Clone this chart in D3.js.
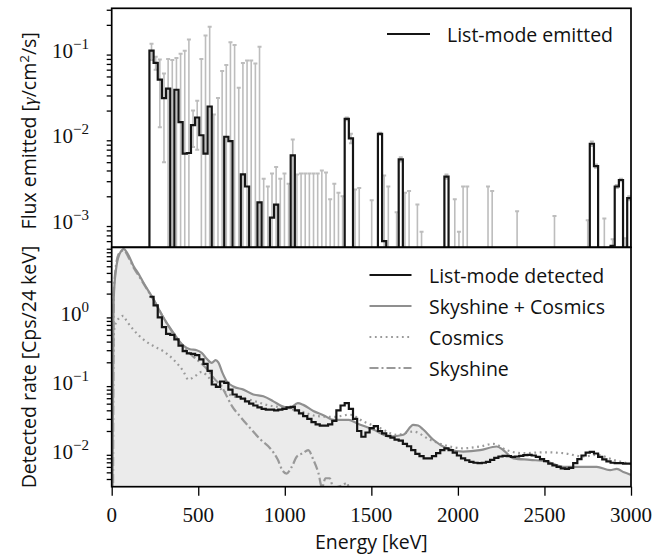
<!DOCTYPE html>
<html><head><meta charset="utf-8">
<script src="https://cdn.jsdelivr.net/npm/d3@7"></script>
<style>body{margin:0;background:#fff}svg{display:block}</style>
</head><body><svg id="c" width="669" height="556"></svg>
<script>
// ---------- DATA ----------
const binWidth = 24; // keV
const binStarts = d3.range(218, 3000, binWidth); // 116 bins
// Top panel: list-mode emitted flux per bin (0 = no flux)
const emitted = [
 0.1, 0.072, 0.046, 0.028, 0.036, 0, 0.035, 0.0147, 0.0063, 0.0064,
 0.0135, 0.0166, 0.0103, 0.0063, 0.0223, 0, 0, 0, 0.0099, 0.0088,
 0, 0, 0.0036, 0.0026, 0, 0, 0.0017, 0, 0, 0.00113,
 0.0016, 0, 0, 0, 0.006, 0, 0, 0, 0, 0,
 0, 0, 0, 0, 0, 0, 0, 0.016, 0.0095, 0,
 0, 0, 0, 0, 0, 0.0107, 0.0006, 0, 0, 0,
 0.0054, 0, 0, 0, 0, 0, 0, 0, 0, 0,
 0, 0.0034, 0, 0, 0, 0, 0, 0, 0, 0,
 0, 0, 0, 0, 0, 0, 0, 0, 0, 0,
 0, 0, 0, 0, 0, 0, 0, 0, 0, 0,
 0, 0, 0, 0, 0, 0, 0.0082, 0.0045, 0, 0,
 0, 0.00053, 0.0026, 0.0031, 0, 0.0019];
// upper end of error bars (0 = none)
const errHigh = [
 0.12, 0.085, 0.079, 0.054, 0.08, 0.078, 0.082, 0.092, 0.1, 0.135,
 0.02, 0.026, 0.08, 0.15, 0.19, 0.018, 0.028, 0.058, 0.068, 0.125,
 0.116, 0.037, 0.072, 0.077, 0.077, 0.071, 0.111, 0.0032, 0.0026, 0.0037,
 0.0044, 0.0032, 0.0037, 0.0028, 0.0092, 0.0036, 0.0037, 0.0037, 0.0037, 0.0037,
 0.0037, 0.004, 0.0038, 0.00185, 0.0028, 0.0022, 0.002, 0.0166, 0.0107, 0.0024,
 0.0025, 0, 0, 0.0018, 0, 0.011, 0.0035, 0.0026, 0, 0.0013,
 0.0057, 0.0022, 0.0023, 0, 0.0016, 0.00077, 0, 0, 0, 0,
 0, 0.0036, 0, 0.00185, 0.00077, 0.0026, 0.0026, 0, 0, 0,
 0, 0.0026, 0.0023, 0, 0, 0, 0, 0, 0.00134, 0,
 0, 0, 0, 0, 0, 0, 0, 0.00118, 0, 0,
 0, 0, 0, 0, 0, 0.00105, 0.0087, 0.0047, 0, 0.0011,
 0, 0.00063, 0.0027, 0.0032, 0.00065, 0.002];
// lower end of error bars (0 = reaches the axis)
const errLow = [
 0.078, 0.06, 0.0128, 0.005, 0, 0, 0, 0, 0, 0,
 0.0075, 0.007, 0, 0, 0, 0, 0, 0, 0, 0,
 0, 0, 0, 0, 0, 0, 0, 0, 0, 0,
 0, 0, 0, 0, 0, 0, 0, 0, 0, 0,
 0, 0, 0, 0, 0, 0, 0, 0.0154, 0.0083, 0,
 0, 0, 0, 0, 0, 0.0104, 0, 0, 0, 0,
 0.0051, 0, 0, 0, 0, 0, 0, 0, 0, 0,
 0, 0.0032, 0, 0, 0, 0, 0, 0, 0, 0,
 0, 0, 0, 0, 0, 0, 0, 0, 0, 0,
 0, 0, 0, 0, 0, 0, 0, 0, 0, 0,
 0, 0, 0, 0, 0, 0, 0.0077, 0.0043, 0, 0,
 0, 0, 0.0025, 0.003, 0, 0.0018];
// Bottom panel: list-mode detected rate per bin
const detected = [
 1.8, 1.35, 0.9, 0.65, 0.52, 0.5, 0.43, 0.35, 0.29, 0.27,
 0.265, 0.255, 0.22, 0.19, 0.15, 0.095, 0.088, 0.105, 0.1, 0.08,
 0.068, 0.063, 0.059, 0.054, 0.05, 0.047, 0.044, 0.042, 0.041, 0.041,
 0.04, 0.041, 0.042, 0.044, 0.045, 0.04, 0.036, 0.033, 0.03, 0.027,
 0.025, 0.024, 0.024, 0.025, 0.028, 0.04, 0.047, 0.051, 0.042, 0.03,
 0.02, 0.0165, 0.019, 0.022, 0.0235, 0.02, 0.0185, 0.017, 0.016, 0.015,
 0.0145, 0.013, 0.012, 0.0105, 0.0093, 0.0086, 0.008, 0.008, 0.0086, 0.0095,
 0.0105, 0.0112, 0.0105, 0.0097, 0.0088, 0.008, 0.0075, 0.0071, 0.0069, 0.0068,
 0.0069, 0.0071, 0.0076, 0.0081, 0.0085, 0.0087, 0.0086, 0.0084, 0.0085, 0.0087,
 0.0089, 0.009, 0.0088, 0.0084, 0.0078, 0.0073, 0.0067, 0.0063, 0.006, 0.0057,
 0.0056, 0.0058, 0.0068, 0.0078, 0.0088, 0.0097, 0.0099, 0.0094, 0.0084, 0.0077,
 0.0072, 0.0069, 0.0068, 0.0068, 0.0067, 0.0067];
// Skyshine + Cosmics
const sumE = [5, 10, 13, 25, 45, 70, 90, 125, 160, 183, 241, 298, 356, 414, 452, 491, 520, 549, 578, 600, 616, 640, 664, 703, 761, 818, 876, 934, 982, 1030, 1075, 1107, 1165, 1223, 1281, 1338, 1370, 1415, 1511, 1608, 1685, 1742, 1770, 1800, 1858, 1935, 2031, 2128, 2224, 2263, 2320, 2417, 2513, 2609, 2706, 2802, 2879, 2918, 2960, 3000];
const sumV = [0.0031, 1.0, 2.0, 4.5, 7.5, 8.9, 7.8, 5.1, 3.7, 2.9, 1.66, 0.9, 0.54, 0.35, 0.31, 0.3, 0.275, 0.225, 0.196, 0.215, 0.2, 0.14, 0.106, 0.089, 0.08, 0.068, 0.064, 0.054, 0.046, 0.043, 0.051, 0.048, 0.039, 0.034, 0.029, 0.029, 0.029, 0.026, 0.021, 0.0166, 0.0176, 0.0246, 0.024, 0.021, 0.0149, 0.0112, 0.01, 0.0105, 0.0119, 0.0105, 0.008, 0.0076, 0.0072, 0.006, 0.006, 0.006, 0.0054, 0.0056, 0.005, 0.0046];
// Cosmics
const cosE = [8, 13, 30, 67, 86, 125, 183, 241, 298, 356, 414, 443, 480, 520, 560, 600, 650, 703, 799, 895, 1011, 1088, 1184, 1281, 1377, 1454, 1550, 1646, 1742, 1839, 1916, 2031, 2128, 2205, 2282, 2378, 2494, 2609, 2725, 2802, 2898, 3000];
const cosV = [0.2, 0.57, 0.8, 0.95, 0.8, 0.6, 0.43, 0.345, 0.29, 0.22, 0.148, 0.112, 0.125, 0.145, 0.12, 0.095, 0.075, 0.064, 0.057, 0.048, 0.043, 0.039, 0.033, 0.032, 0.0345, 0.0275, 0.022, 0.0176, 0.0196, 0.0149, 0.0126, 0.0112, 0.0119, 0.013, 0.0105, 0.0095, 0.0098, 0.0095, 0.0085, 0.009, 0.0076, 0.0066];
// Skyshine
const skyE = [8, 12, 20, 40, 70, 100, 130, 160, 200, 250, 300, 350, 400, 450, 500, 550, 600, 635, 665, 695, 740, 800, 860, 915, 960, 985, 1010, 1040, 1070, 1105, 1135, 1165, 1195, 1215, 1235, 1260, 1280, 1330, 1360, 1380, 1400];
const skyV = [0.0035, 2.0, 4.0, 7.5, 8.5, 6.5, 4.6, 3.5, 2.4, 1.5, 0.88, 0.55, 0.37, 0.27, 0.21, 0.16, 0.11, 0.089, 0.064, 0.046, 0.033, 0.022, 0.015, 0.0112, 0.0076, 0.0054, 0.0048, 0.006, 0.0085, 0.0095, 0.0105, 0.0076, 0.0048, 0.003, 0.0041, 0.0041, 0.003, 0.0032, 0.0035, 0.002, 0.001];
const xTicks = [0, 500, 1000, 1500, 2000, 2500, 3000];
const topMajor = [-3, -2, -1];
const botMajor = [-2, -1, 0];

// ---------- LAYOUT ----------
const svg = d3.select('#c');
const L = 111.7, R = 631, T1 = 8.3, B1 = 247.3, T2 = 247.3, B2 = 486.7;
const x = d3.scaleLinear().domain([0, 3000]).range([L, R]);
const yT = d3.scaleLog().domain([Math.pow(10, -3.294), Math.pow(10, -0.506)]).range([B1, T1]);
const yB = d3.scaleLog().domain([Math.pow(10, -2.51), Math.pow(10, 0.975)]).range([B2, T2]);
const SANS = '"Open Sans", Lato, sans-serif';
const SERIF = '"Liberation Serif", "DejaVu Serif", serif';
const FS = 19.5;

const defs = svg.append('defs');
defs.append('clipPath').attr('id', 'clipT').append('rect').attr('x', L).attr('y', T1).attr('width', R - L).attr('height', B1 - T1);
defs.append('clipPath').attr('id', 'clipB').append('rect').attr('x', L).attr('y', T2).attr('width', R - L).attr('height', B2 - T2);

// ---------- TOP PANEL ----------
const gT = svg.append('g').attr('clip-path', 'url(#clipT)');
const baseT = B1 + 3;
const gray = '#bdbdbd';
const bins = binStarts.map((s, i) => ({s, c: s + binWidth / 2, v: emitted[i], hi: errHigh[i], lo: errLow[i], d: detected[i]}));
const eb = bins.filter(b => b.hi > 0);
gT.selectAll('line.eb').data(eb).join('line')
  .attr('x1', b => x(b.c)).attr('x2', b => x(b.c))
  .attr('y1', b => b.lo > 0 ? yT(b.lo) : baseT).attr('y2', b => yT(b.hi))
  .attr('stroke', gray).attr('stroke-width', 1.6);
gT.selectAll('line.capH').data(eb).join('line')
  .attr('x1', b => x(b.c) - 2).attr('x2', b => x(b.c) + 2)
  .attr('y1', b => yT(b.hi)).attr('y2', b => yT(b.hi))
  .attr('stroke', gray).attr('stroke-width', 2);
gT.selectAll('line.capL').data(eb.filter(b => b.lo > 0)).join('line')
  .attr('x1', b => x(b.c) - 2).attr('x2', b => x(b.c) + 2)
  .attr('y1', b => yT(b.lo)).attr('y2', b => yT(b.lo))
  .attr('stroke', gray).attr('stroke-width', 2);

const stepTop = [{e: binStarts[0], y: baseT}]
  .concat(bins.map(b => ({e: b.s, y: b.v > 0 ? yT(b.v) : baseT})))
  .concat([{e: binStarts[binStarts.length - 1] + binWidth, y: baseT}]);
gT.append('path').attr('d', d3.line().x(d => x(d.e)).y(d => d.y).curve(d3.curveStepAfter)(stepTop))
  .attr('fill', 'none').attr('stroke', '#151515').attr('stroke-width', 2.2).attr('stroke-linejoin', 'miter');

// ---------- BOTTOM PANEL ----------
const gB = svg.append('g').attr('clip-path', 'url(#clipB)');
const sumPts = sumE.map((e, i) => ({e, v: sumV[i]}));
const cosPts = cosE.map((e, i) => ({e, v: cosV[i]}));
const skyPts = skyE.map((e, i) => ({e, v: skyV[i]}));
gB.append('path').attr('d', d3.area().x(d => x(d.e)).y0(B2 + 2).y1(d => yB(d.v)).curve(d3.curveMonotoneX)(sumPts))
  .attr('fill', '#ebebeb');
const ln = d3.line().x(d => x(d.e)).y(d => yB(d.v)).curve(d3.curveMonotoneX);
gB.append('path').attr('d', ln(skyPts)).attr('fill', 'none').attr('stroke', '#999').attr('stroke-width', 2.2).attr('stroke-dasharray', '9,3,2,3');
gB.append('path').attr('d', ln(cosPts)).attr('fill', 'none').attr('stroke', '#9a9a9a').attr('stroke-width', 2.2).attr('stroke-dasharray', '1.8,3.6');
gB.append('path').attr('d', ln(sumPts)).attr('fill', 'none').attr('stroke', '#8f8f8f').attr('stroke-width', 2.2);
const stepBot = bins.map(b => ({e: b.s, v: b.d})).concat([{e: binStarts[binStarts.length - 1] + binWidth, v: detected[detected.length - 1]}]);
gB.append('path').attr('d', d3.line().x(d => x(d.e)).y(d => yB(d.v)).curve(d3.curveStepAfter)(stepBot))
  .attr('fill', 'none').attr('stroke', '#151515').attr('stroke-width', 2.2);

// ---------- AXES ----------
function minors(lo, hi) {
  const out = [];
  for (let e = Math.floor(lo); e <= Math.ceil(hi); e++) for (let k = 2; k <= 9; k++) {
    const v = k * Math.pow(10, e);
    if (Math.log10(v) >= lo && Math.log10(v) <= hi) out.push(v);
  }
  return out;
}
function yAxis(scale, majorsExp, lo, hi) {
  const g = svg.append('g').attr('transform', `translate(${L},0)`);
  g.call(d3.axisLeft(scale).tickValues(majorsExp.map(e => Math.pow(10, e))).tickSize(9).tickFormat(''));
  g.call(d3.axisLeft(scale).tickValues(minors(lo, hi)).tickSize(5).tickFormat(''));
  g.selectAll('.domain').remove();
  g.selectAll('line').attr('stroke', '#000').attr('stroke-width', 1.3);
  majorsExp.forEach(e => {
    const t = svg.append('text').attr('x', 89).attr('y', scale(Math.pow(10, e)) + 7)
      .attr('text-anchor', 'end').attr('font-family', SERIF).attr('font-size', 21).attr('fill', '#111');
    t.append('tspan').text('10');
    t.append('tspan').attr('dy', -9).attr('font-size', 15).text(e === 0 ? '0' : '\u2212' + Math.abs(e));
  });
}
yAxis(yT, topMajor, -3.294, -0.506);
yAxis(yB, botMajor, -2.51, 0.975);

const gx = svg.append('g').attr('transform', `translate(0,${B2})`);
gx.call(d3.axisBottom(x).tickValues(xTicks).tickSize(9).tickFormat(''));
gx.selectAll('.domain').remove();
gx.selectAll('line').attr('stroke', '#000').attr('stroke-width', 1.3);
xTicks.forEach(v => {
  svg.append('text').attr('x', x(v)).attr('y', 521.5).attr('text-anchor', 'middle')
    .attr('font-family', SERIF).attr('font-size', 21).attr('fill', '#111').text(v);
});

// frames
[[T1, B1], [T2, B2]].forEach(([t, b]) => {
  svg.append('rect').attr('x', L).attr('y', t).attr('width', R - L).attr('height', b - t)
    .attr('fill', 'none').attr('stroke', '#000').attr('stroke-width', 1.7);
});

// axis labels
svg.append('text').attr('x', x(1500)).attr('y', 549).attr('text-anchor', 'middle')
  .attr('font-family', SANS).attr('font-size', FS).attr('fill', '#111').text('Energy [keV]');
const yl1 = svg.append('text').attr('transform', `translate(36,${(T1 + B1) / 2 + 3}) rotate(-90)`)
  .attr('text-anchor', 'middle').attr('font-family', SANS).attr('font-size', FS).attr('fill', '#111');
yl1.append('tspan').text('Flux emitted [');
yl1.append('tspan').attr('font-family', SERIF).attr('font-style', 'italic').text('\u03b3');
yl1.append('tspan').text('/cm');
yl1.append('tspan').attr('dy', -7).attr('font-size', 13.5).text('2');
yl1.append('tspan').attr('dy', 7).text('/s]');
svg.append('text').attr('transform', `translate(36,${(T2 + B2) / 2}) rotate(-90)`)
  .attr('text-anchor', 'middle').attr('font-family', SANS).attr('font-size', FS).attr('fill', '#111')
  .text('Detected rate [Cps/24 keV]');

// legends
function legendRow(y, x1, x2, tx, label, stroke, dash) {
  svg.append('line').attr('x1', x1).attr('x2', x2).attr('y1', y).attr('y2', y)
    .attr('stroke', stroke).attr('stroke-width', 2.2).attr('stroke-dasharray', dash || null);
  svg.append('text').attr('x', tx).attr('y', y + 7.5).attr('font-family', SANS).attr('font-size', FS)
    .attr('fill', '#111').text(label);
}
legendRow(34, 387, 430, 447, 'List-mode emitted', '#151515');
const legB = [
  ['List-mode detected', '#151515', null],
  ['Skyshine + Cosmics', '#8f8f8f', null],
  ['Cosmics', '#9a9a9a', '1.8,3.6'],
  ['Skyshine', '#999', '9,3,2,3']
];
legB.forEach((d, i) => legendRow(275 + 31 * i, 369.5, 411.5, 429, d[0], d[1], d[2]));
</script>
</body></html>
